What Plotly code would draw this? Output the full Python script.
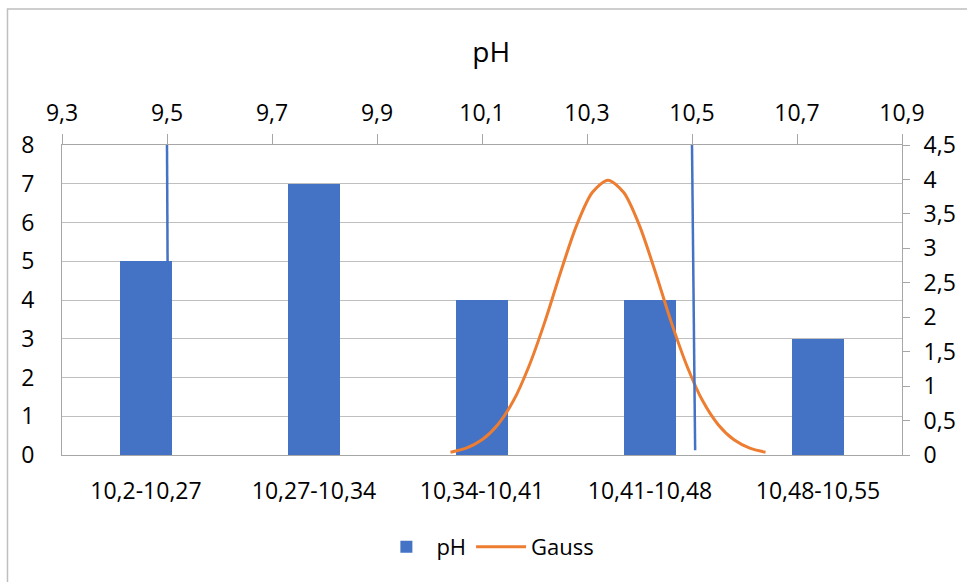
import plotly.graph_objects as go

# ---- data ----
categories = ["10,2-10,27", "10,27-10,34", "10,34-10,41", "10,41-10,48", "10,48-10,55"]
ph_counts = [5, 7, 4, 4, 3]

gauss_x = [10.04, 10.07, 10.10, 10.13, 10.16, 10.19, 10.22, 10.25, 10.28, 10.31, 10.34,
           10.37, 10.40, 10.43, 10.46, 10.49, 10.52, 10.55, 10.58, 10.61, 10.64]
gauss_y = [0.04, 0.10, 0.22, 0.44, 0.79, 1.30, 1.94, 2.66, 3.33, 3.81, 3.99,
           3.81, 3.33, 2.66, 1.94, 1.30, 0.79, 0.44, 0.22, 0.10, 0.04]

limit_x = [9.5, 9.503, None, 10.5, 10.506]
limit_y = [4.5, 0.0, None, 4.5, 0.07]

top_ticks = [9.3, 9.5, 9.7, 9.9, 10.1, 10.3, 10.5, 10.7, 10.9]
top_labels = ["9,3", "9,5", "9,7", "9,9", "10,1", "10,3", "10,5", "10,7", "10,9"]
right_ticks = [0, 0.5, 1, 1.5, 2, 2.5, 3, 3.5, 4, 4.5]
right_labels = ["0", "0,5", "1", "1,5", "2", "2,5", "3", "3,5", "4", "4,5"]

BLUE = "#4472C4"
ORANGE = "#ED7D31"
GRID = "#BFBFBF"
AXIS = "#A6A6A6"
FONT = "Open Sans"
TXT = "#000000"
TS = 23

fig = go.Figure()
fig.add_trace(go.Bar(x=categories, y=ph_counts, name="pH", marker=dict(color=BLUE, line=dict(width=0)),
                     width=0.31, xaxis="x", yaxis="y"))
fig.add_trace(go.Scatter(x=gauss_x, y=gauss_y, name="Gauss", mode="lines",
                         line=dict(color=ORANGE, width=3, shape="spline", smoothing=0.8),
                         xaxis="x2", yaxis="y2"))
fig.add_trace(go.Scatter(x=limit_x, y=limit_y, name="Limits", mode="lines", showlegend=False,
                         line=dict(color=BLUE, width=2.5), xaxis="x2", yaxis="y2"))

fig.update_layout(
    width=967, height=582,
    margin=dict(l=62, r=65, t=145, b=127),
    paper_bgcolor="white", plot_bgcolor="white",
    font=dict(family=FONT, size=TS, color=TXT),
    title=dict(text="pH", x=0.508, xref="container", xanchor="center",
               y=1 - 52 / 582, yref="container", yanchor="middle",
               font=dict(family=FONT, size=28, color=TXT)),
    bargap=0,
    showlegend=True,
    legend=dict(orientation="h", x=0.507, xanchor="center", y=-0.297, yanchor="middle",
                font=dict(family=FONT, size=22, color=TXT), itemwidth=50, traceorder="normal"),
    xaxis=dict(type="category", showgrid=False, showline=True, linecolor=AXIS, linewidth=1,
               ticks="", ticklabelstandoff=15, tickfont=dict(size=TS), zeroline=False),
    yaxis=dict(range=[0, 8], dtick=1, tick0=0, showgrid=True, gridcolor=GRID, gridwidth=1,
               showline=True, linecolor=AXIS, ticks="", ticklabelstandoff=22,
               tickfont=dict(size=TS), zeroline=False),
    xaxis2=dict(overlaying="x", side="top", anchor="y2", range=[9.3, 10.9],
                tickvals=top_ticks, ticktext=top_labels, showgrid=False, showline=True,
                linecolor=AXIS, ticks="outside", ticklen=10, tickcolor=AXIS,
                ticklabelstandoff=4, tickfont=dict(size=TS), zeroline=False),
    yaxis2=dict(overlaying="y", side="right", anchor="x2", range=[0, 4.5],
                tickvals=right_ticks, ticktext=right_labels, showgrid=False, showline=True,
                linecolor=AXIS, ticks="outside", ticklen=7, tickcolor=AXIS,
                ticklabelstandoff=9, tickfont=dict(size=TS), zeroline=False),
    shapes=[dict(type="rect", xref="paper", yref="paper", x0=-0.0649, x1=1.3, y0=-0.6, y1=1.439,
                 line=dict(color="#BFBFBF", width=1.5), fillcolor="rgba(0,0,0,0)", layer="below")],
)

fig.write_html("out.html")
